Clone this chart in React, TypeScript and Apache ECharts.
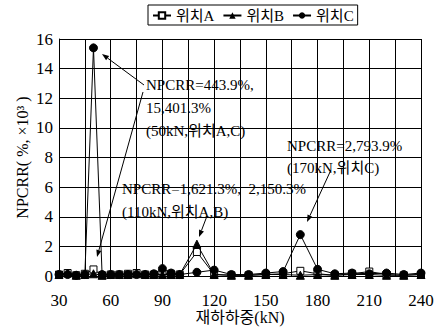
import React, { useEffect, useRef } from "react";
import * as echarts from "echarts";

const loads = [30, 35, 40, 45, 50, 55, 60, 65, 70, 75, 80, 85, 90, 95, 100, 110, 120, 130, 140, 150, 160, 170, 180, 190, 200, 210, 220, 230, 240];
const posA = [0.1, 0.2, 0.05, 0.15, 0.444, 0.05, 0.1, 0.1, 0.15, 0.2, 0.1, 0.1, 0.15, 0.15, 0.1, 1.621, 0.1, 0.05, 0.05, 0.1, 0.15, 0.35, 0.15, 0.05, 0.15, 0.3, 0.1, 0.05, 0.1];
const posB = [0.1, 0.2, 0.05, 0.1, 0.15, 0.05, 0.1, 0.1, 0.1, 0.15, 0.1, 0.1, 0.1, 0.1, 0.1, 2.15, 0.1, 0.05, 0.05, 0.1, 0.1, 0.05, 0.1, 0.05, 0.1, 0.1, 0.05, 0.05, 0.1];
const posC = [0.1, 0.1, 0.05, 0.1, 15.401, 0.1, 0.1, 0.1, 0.1, 0.1, 0.1, 0.15, 0.5, 0.2, 0.1, 0.25, 0.4, 0.1, 0.1, 0.2, 0.3, 2.794, 0.45, 0.15, 0.2, 0.15, 0.2, 0.1, 0.2];
const seriesNames = ["위치A", "위치B", "위치C"];
const xTickLabels = [30, 60, 90, 120, 150, 180, 210, 240];

const FONT = "'Liberation Serif', 'Noto Sans CJK KR', serif";

function arrow(x1: number, y1: number, x2: number, y2: number) {
  const ang = Math.atan2(y2 - y1, x2 - x1);
  const len = 7;
  const w = 2.6;
  const bx = x2 - len * Math.cos(ang);
  const by = y2 - len * Math.sin(ang);
  const px = -Math.sin(ang) * w;
  const py = Math.cos(ang) * w;
  return [
    { type: "line", shape: { x1, y1, x2: bx, y2: by }, style: { stroke: "#000", lineWidth: 1 }, z: 100 },
    { type: "polygon", shape: { points: [[x2, y2], [bx + px, by + py], [bx - px, by - py]] }, style: { fill: "#000" }, z: 100 },
  ];
}

function label(text: string, x: number, y: number) {
  return {
    type: "text",
    x,
    y,
    z: 100,
    style: { text, fontSize: 15, fontFamily: FONT, fill: "#000", verticalAlign: "middle", align: "left" },
  };
}

export default function App() {
  const ref = useRef<HTMLDivElement>(null);
  useEffect(() => {
    if (!ref.current) return;
    const chart = echarts.init(ref.current, undefined, { renderer: "svg" });
    const mk = (arr: number[]) => loads.map((x, i) => [x, arr[i]]);
    const lineStyle = { color: "#000", width: 1 };
    chart.setOption({
      animation: false,
      backgroundColor: "#fff",
      textStyle: { fontFamily: FONT },
      grid: { left: 59, right: 19, top: 39, bottom: 51, outerBoundsMode: "none", containLabel: false },
      legend: {
        left: 148,
        top: 5,
        itemGap: 8,
        itemWidth: 18,
        itemHeight: 8,
        borderColor: "#000",
        borderWidth: 1,
        padding: [3, 4, 2, 4],
        textStyle: { fontSize: 15, fontFamily: FONT, color: "#000" },
        data: seriesNames,
      },
      xAxis: {
        type: "value",
        min: 30,
        max: 240,
        interval: 15,
        name: "재하하중(kN)",
        nameLocation: "middle",
        nameGap: 33,
        nameMoveOverlap: false,
        nameTextStyle: { fontSize: 16, fontFamily: FONT, color: "#000" },
        axisLine: { lineStyle: { color: "#000", width: 1 } },
        axisTick: { show: false },
        axisLabel: {
          fontSize: 17,
          margin: 16,
          color: "#000",
          fontFamily: FONT,
          formatter: (v: number) => (xTickLabels.includes(v) ? String(v) : ""),
        },
        splitLine: { show: true, lineStyle: { color: "#000", width: 1 } },
      },
      yAxis: {
        type: "value",
        min: 0,
        max: 16,
        interval: 2,
        name: "NPCRR( %, ×10³ )",
        nameLocation: "middle",
        nameGap: 29,
        nameMoveOverlap: false,
        nameTextStyle: { fontSize: 16, fontFamily: FONT, color: "#000" },
        axisLine: { show: true, lineStyle: { color: "#000", width: 1 } },
        axisTick: { show: true, inside: true, length: 5, lineStyle: { color: "#000" } },
        axisLabel: { fontSize: 17, margin: 6, color: "#000", fontFamily: FONT },
        splitLine: { show: true, lineStyle: { color: "#000", width: 1 } },
      },
      series: [
        {
          name: seriesNames[0],
          type: "line",
          data: mk(posA),
          symbol: "rect",
          symbolSize: 7,
          itemStyle: { color: "#fff", borderColor: "#000", borderWidth: 1 },
          lineStyle,
          z: 3,
        },
        {
          name: seriesNames[1],
          type: "line",
          data: mk(posB),
          symbol: "triangle",
          symbolSize: 8,
          itemStyle: { color: "#000", borderColor: "#000" },
          lineStyle,
          z: 4,
        },
        {
          name: seriesNames[2],
          type: "line",
          data: mk(posC),
          symbol: "circle",
          symbolSize: 8,
          itemStyle: { color: "#000", borderColor: "#000" },
          lineStyle,
          z: 5,
        },
      ],
      graphic: [
        label("NPCRR=443.9%,", 146, 85),
        label("15,401.3%", 146, 108),
        label("(50kN,위치A,C)", 146, 131),
        label("NPCRR=2,793.9%", 287, 146),
        label("(170kN,위치C)", 287, 168),
        label("NPCRR=1,621.3%,  2,150.3%", 122, 189),
        label("(110kN,위치A,B)", 122, 212),
        ...arrow(144, 85, 102, 54),
        ...arrow(143, 92, 97, 257),
        ...arrow(330, 172, 307, 222),
        ...arrow(207, 216, 199, 237),
      ],
    });
    return () => chart.dispose();
  }, []);
  return <div ref={ref} style={{ width: 440, height: 327, position: "absolute", left: 0, top: 0 }} />;
}
